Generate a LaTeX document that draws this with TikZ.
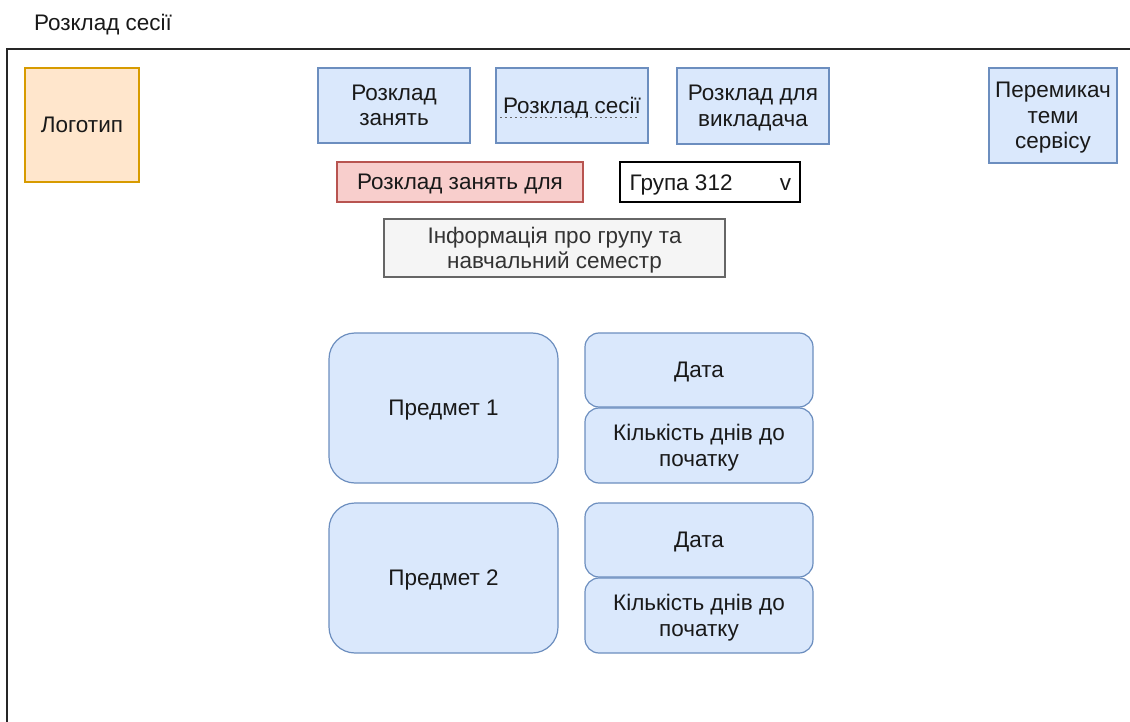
\documentclass[tikz,border=0pt]{standalone}
\usepackage{fontspec}
\setmainfont{Liberation Sans}
\usetikzlibrary{calc}
\definecolor{blueFill}{HTML}{DAE8FC}
\definecolor{blueLine}{HTML}{6C8EBF}
\definecolor{orFill}{HTML}{FFE6CC}
\definecolor{orLine}{HTML}{D79B00}
\definecolor{redFill}{HTML}{F8CECC}
\definecolor{redLine}{HTML}{B85450}
\definecolor{grFill}{HTML}{F5F5F5}
\definecolor{grLine}{HTML}{666666}
\definecolor{grText}{HTML}{333333}
\tikzset{
  txt/.style={font=\fontsize{22.5}{25.5}\selectfont, text=black!90, text depth=0pt},
  box/.style={txt, draw, line width=1.2pt, align=center, inner sep=2pt},
  bluebox/.style={box, fill=blueFill, draw=blueLine},
  rbox/.style={bluebox, rounded corners=#1},
}
\begin{document}
\begin{tikzpicture}[x=1pt,y=-1pt]
\useasboundingbox (0,0) rectangle (1130,722);
\fill[white] (0,0) rectangle (1130,722);
% frame
\coordinate (fbl) at (7,722);
\coordinate (ftl) at (7,49);
\coordinate (ftr) at (1130,49);
\draw[line width=1.8pt, black!85] (fbl) -- (ftl) -- (ftr);
% title
\node[txt, inner sep=0] (title) at (103,22) {Розклад сесії};
% header
\node[box, fill=orFill, draw=orLine, minimum width=114, minimum height=114] (logo) at (82,125) {Логотип};
\node[bluebox, minimum width=152, minimum height=75] (tab1) at (394,105.5) {Розклад\\занять};
\node[bluebox, minimum width=152, minimum height=75] (tab2) at (572,105.5) {Розклад сесії};
\draw[grLine, line width=0.6pt, dash pattern=on 2pt off 3pt] ($(tab2.center)+(-72,12)$) -- ($(tab2.center)+(66,12)$);
\node[bluebox, minimum width=152, minimum height=76] (tab3) at (753,106) {Розклад для\\викладача};
\node[bluebox, minimum width=128, minimum height=95] (theme) at (1053,115.5) {Перемикач\\теми\\сервісу};
% selector row
\node[box, fill=redFill, draw=redLine, minimum width=246, minimum height=40] (forlbl) at (460,182) {Розклад занять для};
\node[box, fill=white, draw=black, minimum width=180, minimum height=40] (group) at (710,182) {};
\node[txt, anchor=west, inner sep=0] (grouptxt) at ($(group.west)+(10,1)$) {Група 312};
\coordinate (vx) at ($(group.east)+(-15,0)$);
\node[txt, anchor=base, inner sep=0] (groupv) at (vx |- grouptxt.base) {v};
% info
\node[box, fill=grFill, draw=grLine, text=grText, minimum width=341, minimum height=58] (info) at (554.5,248) {Інформація про групу та\\навчальний семестр};
% subjects
\node[rbox=26, minimum width=229, minimum height=150] (p1) at (443.5,408) {Предмет 1};
\node[rbox=14, minimum width=228, minimum height=74] (d1) at (699,370) {Дата};
\node[rbox=14, minimum width=228, minimum height=75] (k1) at (699,445.5) {Кількість днів до\\початку};
\node[rbox=26, minimum width=229, minimum height=150] (p2) at (443.5,578) {Предмет 2};
\node[rbox=14, minimum width=228, minimum height=74] (d2) at (699,540) {Дата};
\node[rbox=14, minimum width=228, minimum height=75] (k2) at (699,615.5) {Кількість днів до\\початку};
\end{tikzpicture}
\end{document}
